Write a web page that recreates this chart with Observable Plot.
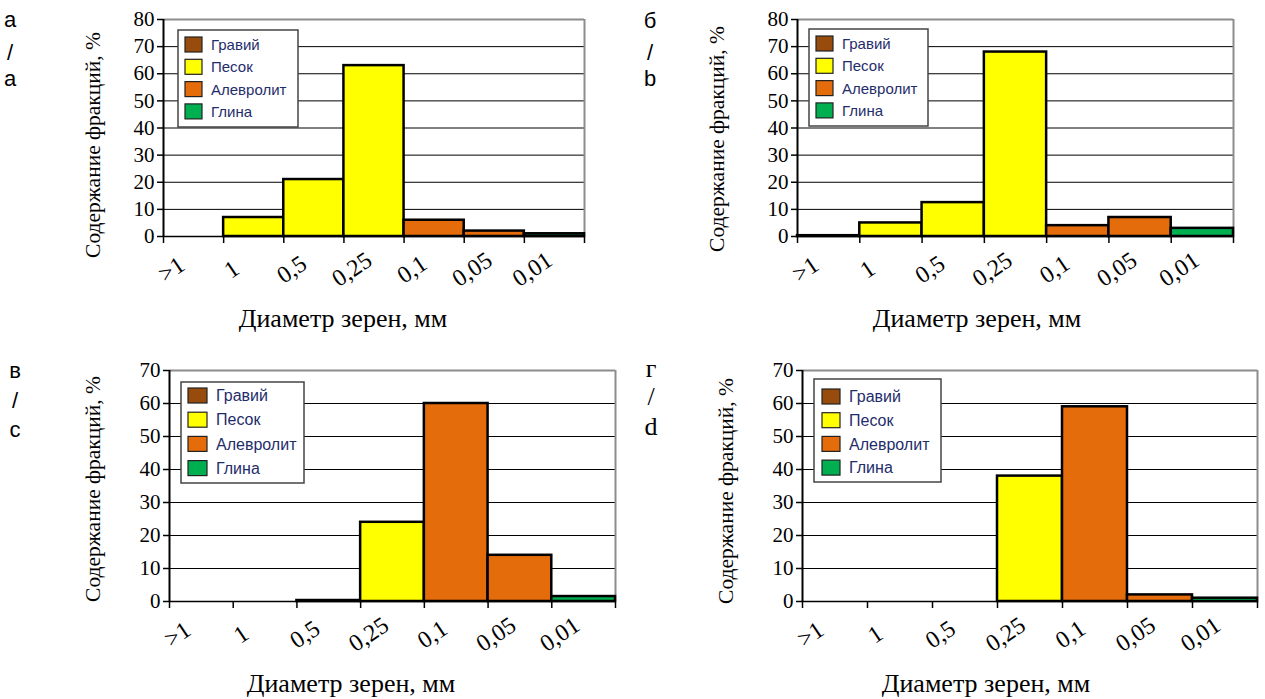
<!DOCTYPE html>
<html><head><meta charset="utf-8">
<script src="https://cdn.jsdelivr.net/npm/d3@7"></script>
<script src="https://cdn.jsdelivr.net/npm/@observablehq/plot@0.6"></script>
<style>
body{margin:0;background:#fff;}
#wrap{position:relative;width:1265px;height:699px;overflow:hidden;background:#fff;}
.panel{position:absolute;}
.panel svg{background:transparent;overflow:visible;}
#overlay{position:absolute;left:0;top:0;pointer-events:none;}
.serif, .serif text{font-family:"Liberation Serif","DejaVu Serif","Times New Roman",serif !important;}
</style></head><body><div id="wrap"></div>
<script>
// ---- data ----
const bins = [">1","1","0,5","0,25","0,1","0,05","0,01"];
const binFraction = ["Гравий","Песок","Песок","Песок","Алевролит","Алевролит","Глина"];
const fractions = ["Гравий","Песок","Алевролит","Глина"];
const fractionColors = ["#974C0E","#FFFF00","#E46C0A","#00B050"];
const valuesA = [null,7,21,63,6,2,1];
const valuesB = [0.3,5,12.5,68,4,7,3];
const valuesC = [null,null,0.3,24,60,14,1.5];
const valuesD = [null,null,null,38,59,2,1];
const yTicks80 = [0,10,20,30,40,50,60,70,80];
const yTicks70 = [0,10,20,30,40,50,60,70];
const panelLetters = [["а","/","a"],["б","/","b"],["в","/","c"],["г","/","d"]];
const yTitle = "Содержание фракций, %";
const xTitle = "Диаметр зерен, мм";

// ---- layout ----
const sans = '"Liberation Sans", Arial, sans-serif';
const serif = '"Liberation Serif", "DejaVu Serif", "Times New Roman", serif';
const panels = [
  {values:valuesA, ticks:yTicks80, left:0,   top:0,   w:632, h:345, fl:163, fr:584,  ft:19,  fb:236,
   lab:{x:10, ys:[27,60,86], serif:false, size:22},
   yt:{x:100, y:145}, xt:{x:343, y:327},
   leg:{x:178, y:30, w:120, h:97, sx:7, sy:7, sw:17, sh:15, step:22.3, tx:33, fs:15}},
  {values:valuesB, ticks:yTicks80, left:632, top:0,   w:633, h:345, fl:797, fr:1233, ft:19,  fb:236,
   lab:{x:650, ys:[28,60,86], serif:false, size:22},
   yt:{x:724, y:139}, xt:{x:977, y:327},
   leg:{x:809, y:29, w:119, h:97, sx:7, sy:7, sw:17, sh:15, step:22.3, tx:33, fs:15}},
  {values:valuesC, ticks:yTicks70, left:0,   top:345, w:632, h:354, fl:169, fr:615,  ft:370, fb:601,
   lab:{x:15, ys:[378,408,437], serif:false, size:22},
   yt:{x:100, y:489}, xt:{x:351, y:692},
   leg:{x:181, y:382, w:123, h:101, sx:7, sy:6, sw:19, sh:15, step:24.2, tx:35, fs:16}},
  {values:valuesD, ticks:yTicks70, left:632, top:345, w:633, h:354, fl:802, fr:1257, ft:370, fb:601,
   lab:{x:651, ys:[377,405,435], serif:true, size:26},
   yt:{x:733, y:491}, xt:{x:986, y:692},
   leg:{x:814, y:379, w:127, h:103, sx:8, sy:10, sw:18, sh:15, step:23.7, tx:35, fs:16}}
];

const wrap = document.getElementById("wrap");

panels.forEach(p => {
  const data = p.values.map((v,i)=>({i, v, f: binFraction[i]})).filter(d=>d.v!=null);
  const ymax = p.ticks[p.ticks.length-1];
  const chart = Plot.plot({
    width: p.w, height: p.h,
    marginLeft: p.fl - p.left, marginRight: p.left + p.w - p.fr,
    marginTop: p.ft - p.top, marginBottom: p.top + p.h - p.fb,
    x: {domain:[0,7], axis:null},
    y: {domain:[0,ymax], axis:null},
    color: {domain: fractions, range: fractionColors},
    style: {fontFamily: serif, background:"transparent", overflow:"visible", color:"#000"},
    marks: [
      Plot.ruleY(p.ticks.filter(t=>t>0 && t<ymax), {stroke:"#000", strokeWidth:1}),
      Plot.ruleY([ymax], {stroke:"#8c8c8c", strokeWidth:2}),
      Plot.ruleX([7], {stroke:"#8c8c8c", strokeWidth:2}),
      Plot.rect(data, {x1:"i", x2:d=>d.i+1, y1:0, y2:"v", fill:"f", stroke:"#000", strokeWidth:2.5}),
      Plot.axisY(p.ticks, {tickSize:6, tickPadding:3, fontSize:21, label:null, strokeWidth:1.5}),
      Plot.axisX(d3.range(8), {tickSize:7, tickFormat:()=>"", label:null, strokeWidth:1.5}),
      Plot.ruleX([0], {stroke:"#000", strokeWidth:2}),
      Plot.ruleY([0], {stroke:"#000", strokeWidth:1.5}),
      Plot.text(bins.map((b,i)=>({b,i})), {x:"i", y:0, text:"b", rotate:-34, dx:8, dy:33,
        fontSize:24, textAnchor:"middle", lineAnchor:"middle", fill:"#000"})
    ]
  });
  chart.classList.add("serif");
  const div = document.createElement("div");
  div.className = "panel";
  div.style.left = p.left + "px";
  div.style.top = p.top + "px";
  div.appendChild(chart);
  wrap.appendChild(div);
});

// ---- overlay: panel letters, titles, legends ----
const svg = d3.select(wrap).append("svg").attr("id","overlay")
  .attr("width",1265).attr("height",699);

panels.forEach((p, k) => {
  panelLetters[k].forEach((ch, j) => {
    svg.append("text").attr("x", p.lab.x).attr("y", p.lab.ys[j])
      .attr("text-anchor","middle").attr("class", p.lab.serif ? "serif" : null)
      .style("font-family", p.lab.serif ? serif : sans)
      .attr("font-size", p.lab.size).attr("fill","#000").text(ch);
  });
  svg.append("text").attr("class","serif")
    .attr("transform", `translate(${p.yt.x},${p.yt.y}) rotate(-90)`)
    .attr("text-anchor","middle").style("font-family", serif)
    .attr("font-size", 21.5).attr("fill","#000").text(yTitle);
  svg.append("text").attr("class","serif").attr("x", p.xt.x).attr("y", p.xt.y)
    .attr("text-anchor","middle").style("font-family", serif)
    .attr("font-size", 26).attr("fill","#000").text(xTitle);

  const L = p.leg;
  const g = svg.append("g").attr("transform", `translate(${L.x},${L.y})`);
  g.append("rect").attr("width", L.w).attr("height", L.h)
    .attr("fill","#fff").attr("stroke","#444").attr("stroke-width",1.5);
  fractions.forEach((f, j) => {
    const y = L.sy + j*L.step;
    g.append("rect").attr("x", L.sx).attr("y", y).attr("width", L.sw).attr("height", L.sh)
      .attr("fill", fractionColors[j]).attr("stroke","#222").attr("stroke-width",1.2);
    g.append("text").attr("x", L.tx).attr("y", y + L.sh/2).attr("dy","0.36em")
      .style("font-family", sans).attr("font-size", L.fs)
      .attr("fill","#1f2d6b").text(f);
  });
});
</script>
</body></html>
